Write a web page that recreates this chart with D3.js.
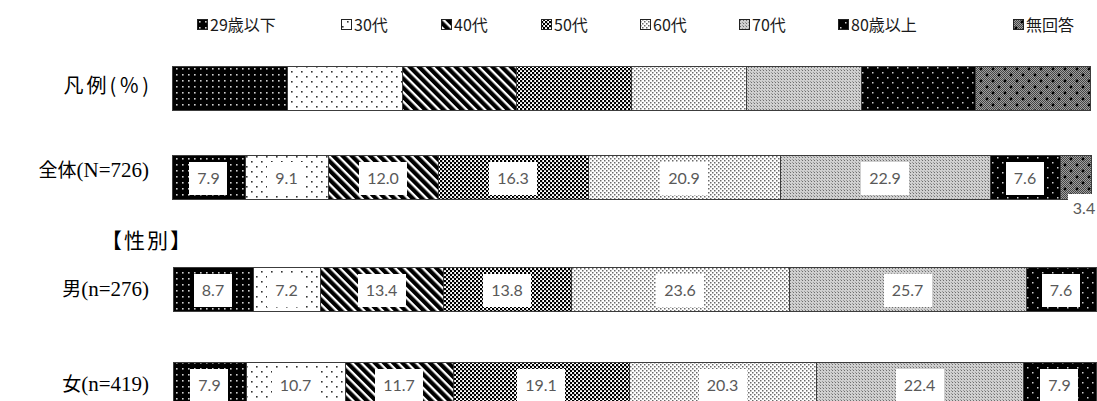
<!DOCTYPE html>
<html>
<head>
<meta charset="utf-8">
<script src="https://cdn.jsdelivr.net/npm/d3@7"></script>
<style>
  html, body { margin: 0; padding: 0; background: #fff; }
  svg { display: block; }
</style>
</head>
<body>
<svg id="chart" width="1097" height="401"></svg>
<script>
// ---- data ----
const categories = ["29歳以下", "30代", "40代", "50代", "60代", "70代", "80歳以上", "無回答"];
const legendShares = [12.5, 12.5, 12.5, 12.5, 12.5, 12.5, 12.5, 12.5];
const rowNames = ["全体", "男", "女"];
const rowCounts = ["(N=726)", "(n=276)", "(n=419)"];
const totalValues = [7.9, 9.1, 12.0, 16.3, 20.9, 22.9, 7.6, 3.4];
const maleValues = [8.7, 7.2, 13.4, 13.8, 23.6, 25.7, 7.6, 0];
const femaleValues = [7.9, 10.7, 11.7, 19.1, 20.3, 22.4, 7.9, 0];

// ---- setup ----
const svg = d3.select("#chart");
const defs = svg.append("defs");
const GOTHIC = "'Noto Sans CJK JP', 'Noto Sans', sans-serif";
const SERIF = "'Liberation Serif', 'DejaVu Serif', serif";
const LABEL_FONT = "Lato, 'Open Sans', sans-serif";

// fill patterns, one per age group
function makePattern(id, w, h, draw, transform) {
  const p = defs.append("pattern")
    .attr("id", id)
    .attr("patternUnits", "userSpaceOnUse")
    .attr("width", w).attr("height", h);
  if (transform) p.attr("patternTransform", transform);
  draw(p);
}
function px(g, x, y, w, h, c) {
  g.append("rect").attr("x", x).attr("y", y).attr("width", w).attr("height", h).attr("fill", c);
}
// fine checker used under the 無回答 dots
makePattern("chk1", 2, 2, p => {
  px(p, 0, 0, 2, 2, "#a0a0a0");
  px(p, 0, 0, 1, 1, "#444");
  px(p, 1, 1, 1, 1, "#444");
});
makePattern("p0", 6, 6, p => {          // 29歳以下: black, fine light dots
  px(p, 0, 0, 6, 6, "#000");
  px(p, 2, 2, 1.6, 1.6, "#cfcfcf");
});
makePattern("p1", 10, 10, p => {        // 30代: white, sparse dots
  px(p, 0, 0, 10, 10, "#fff");
  px(p, 1, 1, 1.6, 1.6, "#333");
  px(p, 6, 6, 1.6, 1.6, "#333");
});
makePattern("p2", 6.5, 6.5, p => {      // 40代: wide diagonal stripes
  px(p, 0, 0, 6.5, 6.5, "#fff");
  px(p, 0, 0, 4.2, 6.5, "#000");
}, "rotate(-45)");
makePattern("p3", 4, 4, p => {          // 50代: small checker
  px(p, 0, 0, 4, 4, "#fff");
  px(p, 0, 0, 2.2, 2.2, "#000");
  px(p, 2, 2, 2.2, 2.2, "#000");
});
makePattern("p4", 4, 4, p => {          // 60代: light dotted
  px(p, 0, 0, 4, 4, "#fff");
  px(p, 0, 0, 1.5, 1.5, "#6a6a6a");
  px(p, 2, 2, 1.5, 1.5, "#6a6a6a");
});
makePattern("p5", 3, 3, p => {          // 70代: light gray grid
  px(p, 0, 0, 3, 3, "#d0d0d0");
  px(p, 1, 1, 1, 1, "#6e6e6e");
  px(p, 0, 0, 1, 1, "#9a9a9a");
});
makePattern("p6", 10, 10, p => {        // 80歳以上: black, sparse light dots
  px(p, 0, 0, 10, 10, "#000");
  px(p, 2, 2, 1.5, 1.5, "#d0d0d0");
  px(p, 7, 7, 1.5, 1.5, "#d0d0d0");
});
makePattern("p7", 12, 12, p => {        // 無回答: gray checker with dark dots
  p.append("rect").attr("width", 12).attr("height", 12).attr("fill", "url(#chk1)");
  p.append("circle").attr("cx", 3).attr("cy", 3).attr("r", 1.4).attr("fill", "#000");
  p.append("circle").attr("cx", 9).attr("cy", 9).attr("r", 1.4).attr("fill", "#000");
});
const fillOf = d3.scaleOrdinal().domain(categories).range(categories.map((_, i) => `url(#p${i})`));

// ---- scales ----
const xTop = d3.scaleLinear().domain([0, 100]).range([172, 1090]);
const xSub = d3.scaleLinear().domain([0, 100]).range([173, 1096]);
const rowKeys = ["legend", "total", "male", "female"];
const yTop = d3.scaleOrdinal().domain(rowKeys).range([66, 155, 267, 362]);
const barH = 44;

const rows = [
  { key: "legend", values: legendShares, x: xTop, labels: false, name: ["凡例(％)", ""], nameDy: -1, spacing: 3, size: 20 },
  { key: "total", values: totalValues, x: xTop, labels: true, name: [rowNames[0], rowCounts[0]], nameDy: -6, spacing: 0, size: 19 },
  { key: "male", values: maleValues, x: xSub, labels: true, name: [rowNames[1], rowCounts[1]], nameDy: 1, spacing: 0, size: 19 },
  { key: "female", values: femaleValues, x: xSub, labels: true, name: [rowNames[2], rowCounts[2]], nameDy: 1, spacing: 0, size: 19 }
];

// ---- top legend ----
const legendX = [197, 341, 441, 541, 640, 739, 838, 1013];
const leg = svg.append("g").selectAll("g").data(categories).join("g")
  .attr("transform", (d, i) => `translate(${legendX[i]},25)`);
leg.append("rect")
  .attr("x", 0.5).attr("y", -5.5).attr("width", 10).attr("height", 10)
  .attr("fill", d => fillOf(d)).attr("stroke", "#222").attr("stroke-width", 1);
leg.append("text")
  .attr("x", 13).attr("y", 0).attr("dy", "0.36em")
  .attr("font-family", GOTHIC).attr("font-size", 16).attr("fill", "#1a1a1a")
  .text(d => d);

// ---- bars ----
rows.forEach(row => {
  const g = svg.append("g");
  const top = yTop(row.key);
  const ends = d3.cumsum(row.values);
  const segs = row.values.map((v, i) => ({
    cat: categories[i], v,
    x0: Math.round(row.x(ends[i] - v)), x1: Math.round(row.x(ends[i]))
  })).filter(s => s.v > 0);

  g.selectAll("rect.seg").data(segs).join("rect")
    .attr("class", "seg")
    .attr("x", s => s.x0 + 0.5).attr("y", top + 0.5)
    .attr("width", s => s.x1 - s.x0).attr("height", barH)
    .attr("fill", s => fillOf(s.cat))
    .attr("stroke", "#3c3c3c").attr("stroke-width", 1);

  // row name: gothic part + serif count
  const t = g.append("text")
    .attr("x", 149 + row.spacing).attr("y", top + barH / 2 + row.nameDy).attr("dy", "0.36em")
    .attr("text-anchor", "end").attr("fill", "#000")
    .attr("letter-spacing", row.spacing);
  t.append("tspan").attr("font-family", GOTHIC).attr("font-size", row.size).text(row.name[0]);
  if (row.name[1]) t.append("tspan").attr("font-family", SERIF).attr("font-size", 21).text(row.name[1]);

  if (!row.labels) return;
  segs.forEach(s => {
    const small = s.v < 5;
    const cx = small ? s.x1 - 7 : (s.x0 + s.x1) / 2;
    const cy = small ? top + barH + 9 : top + barH / 2 + 1;
    const lbl = g.append("g");
    const box = lbl.append("rect").attr("fill", "#fff");
    const txt = lbl.append("text")
      .attr("x", cx).attr("y", cy).attr("dy", "0.36em")
      .attr("text-anchor", "middle")
      .attr("font-family", LABEL_FONT).attr("font-size", 16).attr("fill", "#595959")
      .text(d3.format(".1f")(s.v));
    const w = txt.node().getComputedTextLength();
    const bw = small ? w + 10 : w + 16, bh = small ? 28 : 33;
    box.attr("x", Math.round(cx - bw / 2)).attr("y", Math.round(cy - bh / 2))
      .attr("width", Math.round(bw)).attr("height", bh);
  });
});

// section heading
svg.append("text")
  .attr("x", 101).attr("y", 240).attr("dy", "0.36em")
  .attr("font-family", GOTHIC).attr("font-size", 21).attr("letter-spacing", 2).attr("fill", "#000")
  .text("【性別】");
</script>
</body>
</html>
